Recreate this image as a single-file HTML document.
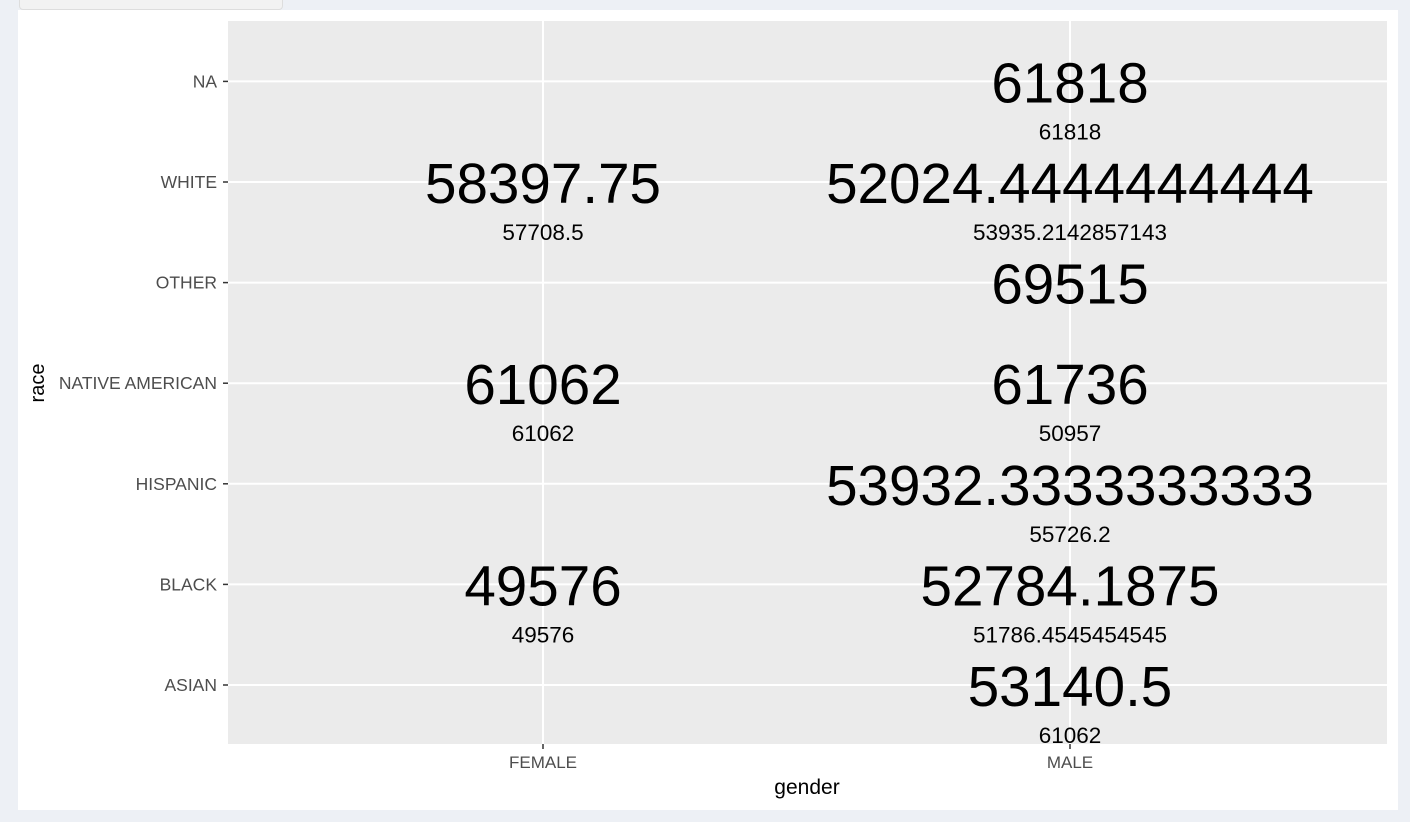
<!DOCTYPE html>
<html><head><meta charset="utf-8"><style>
body{margin:0;width:1410px;height:822px;background:#edf0f5;overflow:hidden;font-family:"Liberation Sans",Arial,sans-serif}
#tab{position:absolute;left:19px;top:-4px;width:262px;height:12px;background:#f2f2f2;border:1px solid #ddd;border-radius:4px}
#card{position:absolute;left:18px;top:10px;width:1380px;height:800px;background:#fff}
svg{position:absolute;left:0;top:0}
</style></head><body>
<div id="tab"></div>
<div id="card"></div>
<svg id="chart" width="1410" height="822"></svg>
<script>
const races=["ASIAN","BLACK","HISPANIC","NATIVE AMERICAN","OTHER","WHITE","NA"];
const genders=["FEMALE","MALE"];
const cellGender=["FEMALE","FEMALE","FEMALE","MALE","MALE","MALE","MALE","MALE","MALE","MALE"];
const cellRace=["WHITE","NATIVE AMERICAN","BLACK","NA","WHITE","OTHER","NATIVE AMERICAN","HISPANIC","BLACK","ASIAN"];
const bigLabels=["58397.75","61062","49576","61818","52024.4444444444","69515","61736","53932.3333333333","52784.1875","53140.5"];
const smallLabels=["57708.5","61062","49576","61818","53935.2142857143","","50957","55726.2","51786.4545454545","61062"];
const NS="http://www.w3.org/2000/svg";
const svg=document.getElementById('chart');
const P={l:228,r:1387,t:21,b:744};
const x=g=>{const i=genders.indexOf(g);return 543+i*527;};
const y=r=>{const i=races.indexOf(r);return 685-i*100.6;};
function mk(t,a,txt){const e=document.createElementNS(NS,t);for(const k in a)e.setAttribute(k,a[k]);if(txt!==undefined)e.textContent=txt;svg.appendChild(e);return e;}
let e=mk('rect',{x:P.l,y:P.t,width:P.r-P.l,height:P.b-P.t,fill:'#ebebeb'});

races.forEach(r=>{
 let g=mk('line',{x1:P.l,x2:P.r,y1:y(r),y2:y(r),stroke:'#fff','stroke-width':2});
 
 mk('line',{x1:P.l-5,x2:P.l,y1:y(r),y2:y(r),stroke:'#333','stroke-width':1.5});
 let t=mk('text',{x:P.l-11,y:y(r)+6,'text-anchor':'end','font-size':17.5,fill:'#4d4d4d'},r);
 
});
genders.forEach(gd=>{
 let g=mk('line',{y1:P.t,y2:P.b,x1:x(gd),x2:x(gd),stroke:'#fff','stroke-width':2});
 
 mk('line',{y1:P.b,y2:P.b+5,x1:x(gd),x2:x(gd),stroke:'#333','stroke-width':1.5});
 let t=mk('text',{x:x(gd),y:P.b+24,'text-anchor':'middle','font-size':17,fill:'#4d4d4d'},gd);
 
});
bigLabels.forEach((v,i)=>{
 const cx=x(cellGender[i]),cy=y(cellRace[i]);
 let t=mk('text',{x:cx,y:cy+21,'text-anchor':'middle','font-size':56.6,fill:'#000'},v);
 
 if(smallLabels[i]){let s=mk('text',{x:cx,y:cy+58,'text-anchor':'middle','font-size':22.5,fill:'#000'},smallLabels[i]);
 }
});
let xt=mk('text',{x:807,y:794,'text-anchor':'middle','font-size':21,fill:'#000'},'gender');

let yt=mk('text',{x:0,y:0,'text-anchor':'middle','font-size':20,fill:'#000',transform:'translate(44,383) rotate(-90)'},'race');

</script>
</body></html>
